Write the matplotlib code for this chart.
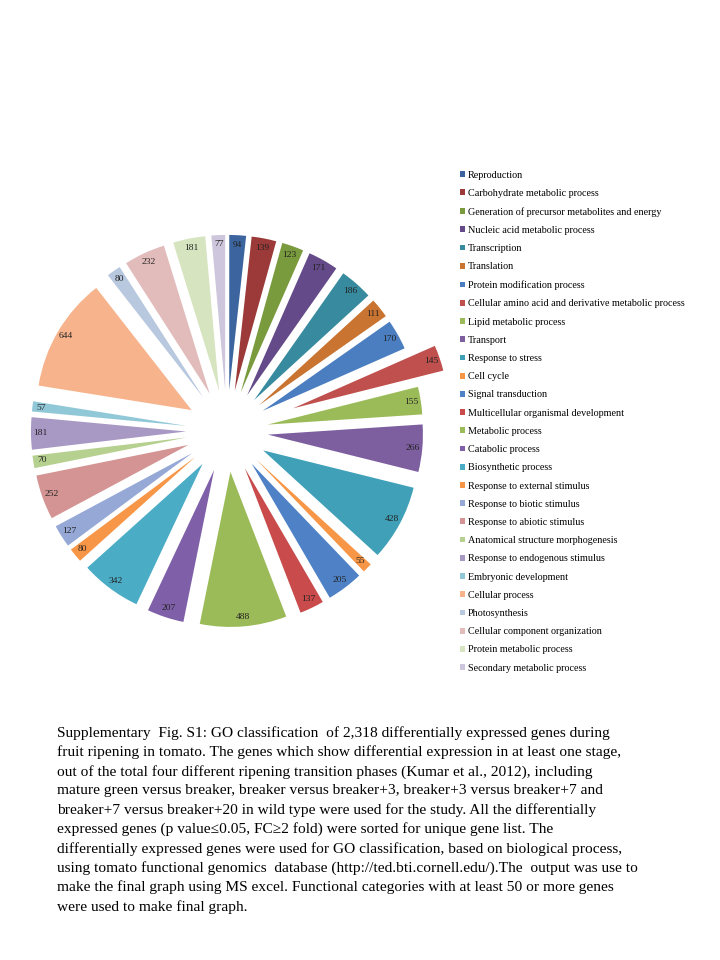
import matplotlib
matplotlib.use("Agg")
import matplotlib.pyplot as plt

plt.rcParams['font.family'] = ['Liberation Serif', 'DejaVu Serif']

categories = [
    "Reproduction", "Carbohydrate metabolic process",
    "Generation of precursor metabolites and energy", "Nucleic acid metabolic process",
    "Transcription", "Translation", "Protein modification process",
    "Cellular amino acid and derivative metabolic process", "Lipid metabolic process",
    "Transport", "Response to stress", "Cell cycle", "Signal transduction",
    "Multicellular organismal development", "Metabolic process", "Catabolic process",
    "Biosynthetic process", "Response to external stimulus", "Response to biotic stimulus",
    "Response to abiotic stimulus", "Anatomical structure morphogenesis",
    "Response to endogenous stimulus", "Embryonic development", "Cellular process",
    "Photosynthesis", "Cellular component organization", "Protein metabolic process",
    "Secondary metabolic process",
]
counts = [94, 139, 123, 171, 186, 111, 170, 145, 155, 266, 428, 55, 205, 137,
          488, 207, 342, 80, 127, 252, 70, 181, 57, 644, 80, 232, 181, 77]

colors = ["#3C65A0", "#9B3A38", "#7A9A3E", "#644A88", "#388A9E", "#C97430",
          "#4A7EC0", "#C0504D", "#9BBB59", "#7D5FA0", "#3FA0B8", "#F79646",
          "#4F81C6", "#C94B4B", "#9BBB59", "#7F5FA8", "#4BACC6", "#F79646",
          "#95A8D6", "#D39493", "#B6D08F", "#A898C4", "#91C8D8", "#F6B38C",
          "#B8C8DE", "#E2BCBB", "#D6E4C0", "#CEC6DC"]
explode = [0.265] * len(counts)
explode[7] = 0.45

caption = [
    "Supplementary  Fig. S1: GO classification  of 2,318 differentially expressed genes during",
    "fruit ripening in tomato. The genes which show differential expression in at least one stage,",
    "out of the total four different ripening transition phases (Kumar et al., 2012), including",
    "mature green versus breaker, breaker versus breaker+3, breaker+3 versus breaker+7 and",
    "breaker+7 versus breaker+20 in wild type were used for the study. All the differentially",
    "expressed genes (p value\u22640.05, FC\u22652 fold) were sorted for unique gene list. The",
    "differentially expressed genes were used for GO classification, based on biological process,",
    "using tomato functional genomics  database (http://ted.bti.cornell.edu/).The  output was use to",
    "make the final graph using MS excel. Functional categories with at least 50 or more genes",
    "were used to make final graph.",
]

fig = plt.figure(figsize=(7.2, 9.6), dpi=100)

# pie centre at (227, 431) px, radius 155 px
ax = fig.add_axes([0, 302 / 960, 454 / 720, 454 / 960])
wedges, texts = ax.pie(counts, colors=colors, explode=explode, startangle=90,
                       counterclock=False, labels=[str(c) for c in counts],
                       labeldistance=0.94, radius=1,
                       textprops={'fontsize': 6.8, 'color': '#222222'})
for t in texts:
    t.set_ha('center')
    t.set_va('center')
for w in wedges:
    w.set_clip_on(False)
lim = 227 / 155
ax.set_xlim(-lim, lim)
ax.set_ylim(-lim, lim)
ax.axis('off')

fig.legend(wedges, categories, loc='upper left',
           bbox_to_anchor=(460 / 720, 1 - 170.5 / 960),
           frameon=False, fontsize=7.33, borderpad=0, borderaxespad=0,
           handlelength=0.5, handleheight=0.5, handletextpad=0.25,
           labelspacing=0.905)

for i, line in enumerate(caption):
    fig.text(57 / 720, 1 - (733 + i * 19.3) / 960, line, fontsize=11.1,
             va='center', ha='left', color='black')

fig.savefig("out.png", dpi=100, facecolor='white')
